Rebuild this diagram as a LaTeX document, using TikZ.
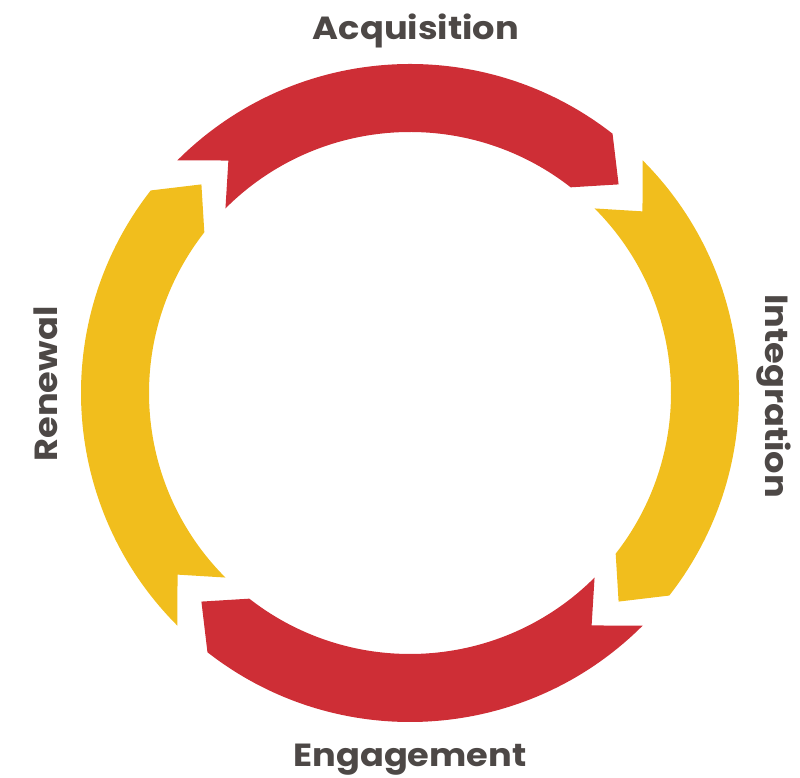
\documentclass[tikz,border=0pt]{standalone}
\usepackage{fontspec}
\setmainfont{Poppins}[UprightFont=* Bold, FakeStretch=1.1]
\definecolor{arcred}{RGB}{206,46,54}
\definecolor{arcyellow}{RGB}{241,190,29}
\definecolor{labelgray}{RGB}{77,72,70}
\tikzset{
	stagelabel/.style={text=labelgray, font=\fontsize{32}{38}\selectfont, inner sep=0pt}
}
\begin{document}
\begin{tikzpicture}[x=1pt, y=1pt]
	\useasboundingbox (0,0) rectangle (800,778);
	\coordinate (c) at (410,385);
	%% four curved arrows, tail angle / colour
	\foreach \t/\col in {135/arcred, 45/arcyellow, -45/arcred, -135/arcyellow}{
		\fill[\col, shift={(c)}] (\t:329) arc[start angle=\t, end angle=\t-83, radius=329]
			-- (\t-90:295) -- (\t-83:261) arc[start angle=\t-83, end angle=\t, radius=261]
			-- (\t-7:295) -- cycle;
	}
	\node[stagelabel, anchor=base] (acq) at (416,738) {Acquisition};
	\node[stagelabel, anchor=base, rotate=-90] (int) at (765,382) {Integration};
	\node[stagelabel, anchor=base] (eng) at (410,11) {Engagement};
	\node[stagelabel, anchor=base, rotate=90] (ren) at (57,394) {Renewal};
\end{tikzpicture}
\end{document}
